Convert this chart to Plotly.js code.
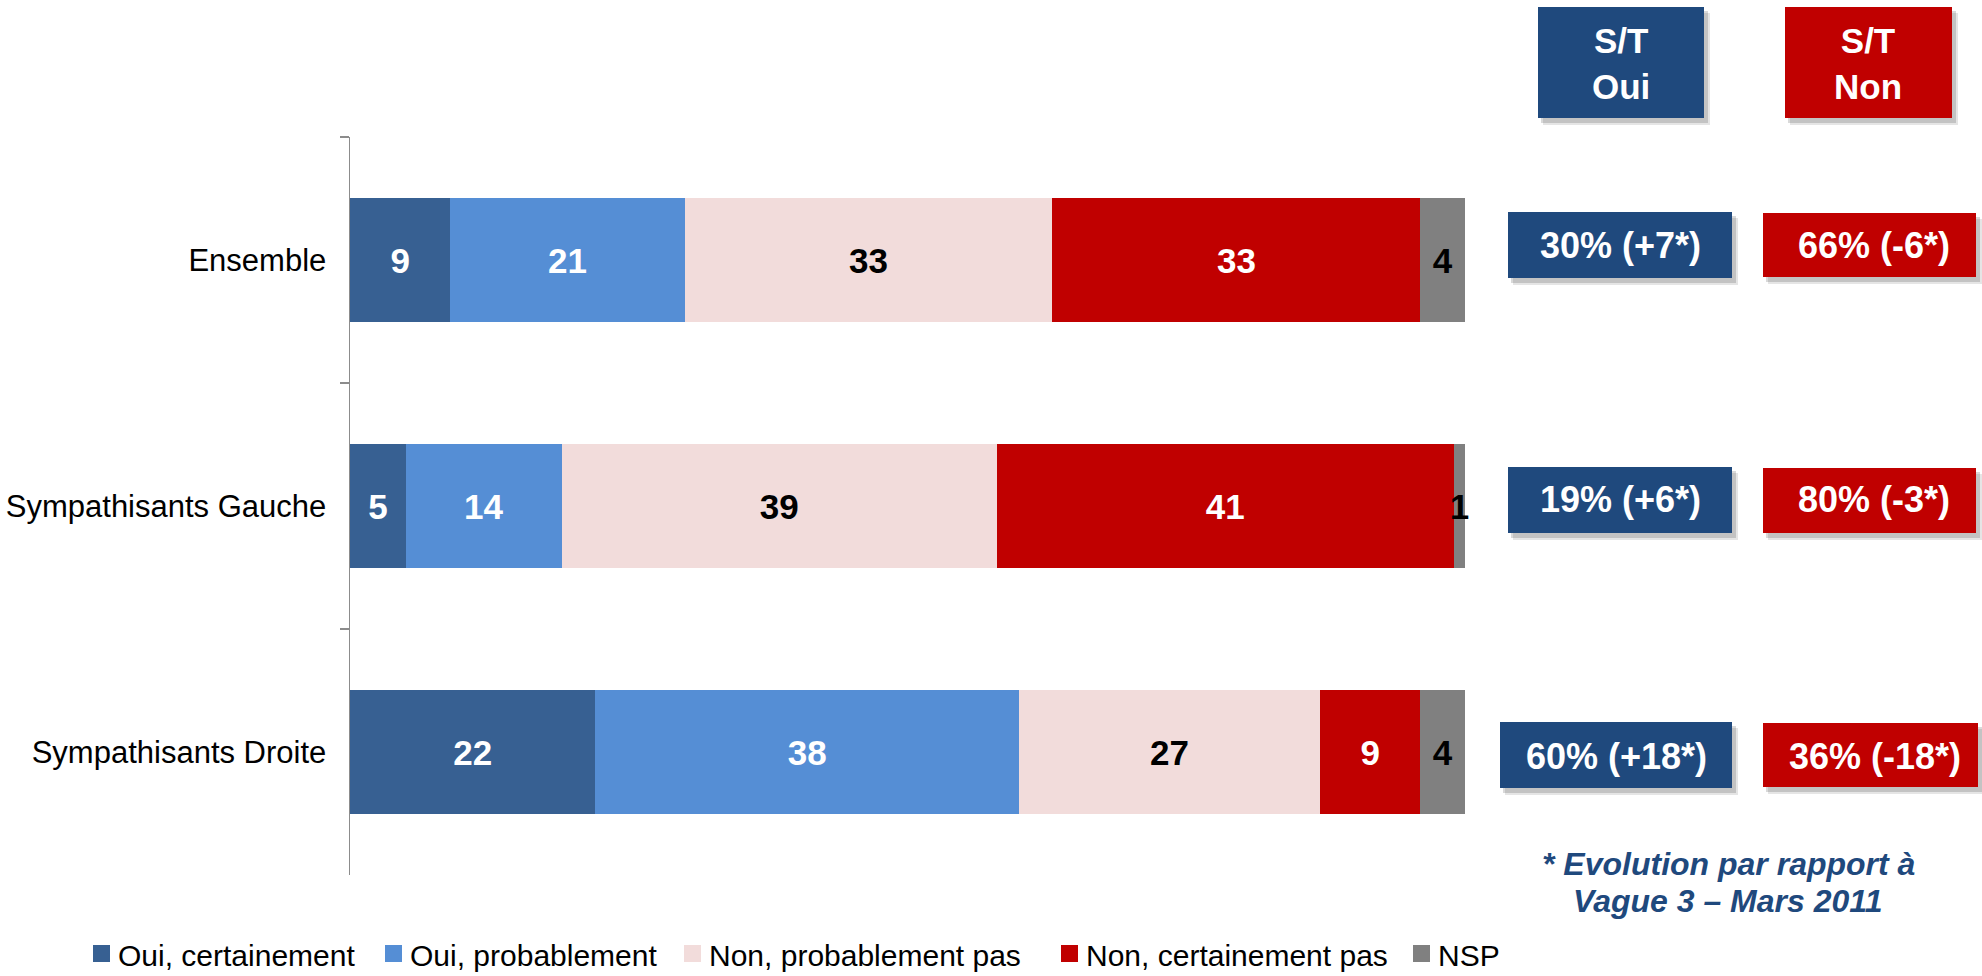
<!DOCTYPE html>
<html>
<head>
<meta charset="utf-8">
<script src="https://cdn.plot.ly/plotly-3.0.1.min.js"></script>
<style>html,body{margin:0;padding:0;background:#fff;}#chart{width:1982px;height:976px;}</style>
</head>
<body>
<div id="chart"></div>
<script>
// ---- Data ----
const categories = ['Ensemble', 'Sympathisants Gauche', 'Sympathisants Droite'];
const seriesNames = ['Oui, certainement', 'Oui, probablement', 'Non, probablement pas', 'Non, certainement pas', 'NSP'];
const ouiCertainement = [9, 5, 22];
const ouiProbablement = [21, 14, 38];
const nonProbablementPas = [33, 39, 27];
const nonCertainementPas = [33, 41, 9];
const nsp = [4, 1, 4];
const stOui = ['30% (+7*)', '19% (+6*)', '60% (+18*)'];
const stNon = ['66% (-6*)', '80% (-3*)', '36% (-18*)'];
const headerOui = 'S/T<br>Oui';
const headerNon = 'S/T<br>Non';
const footnote = ['* Evolution par rapport à', 'Vague 3 – Mars 2011'];

// ---- Styles ----
const seriesColors = ['#376092', '#558ed5', '#f2dcdb', '#c00000', '#808080'];
const labelColors = ['#ffffff', '#ffffff', '#000000', '#ffffff', '#000000'];
const FONT = 'Liberation Sans, Arial, sans-serif';
const BLUE = '#1f497d', RED = '#c00000';

const L = 350, R = 1465, T = 137, B = 875;
const px = x => (x - L) / (R - L);
const py = y => (B - y) / (B - T);

const seriesValues = [ouiCertainement, ouiProbablement, nonProbablementPas, nonCertainementPas, nsp];

const traces = seriesValues.map((vals, i) => ({
  type: 'bar',
  orientation: 'h',
  name: seriesNames[i],
  y: categories,
  x: vals,
  marker: {color: seriesColors[i], line: {width: 0}},
  text: vals.map(String),
  texttemplate: '%{text}',
  textposition: 'inside',
  insidetextanchor: 'middle',
  textangle: 0,
  constraintext: 'none',
  cliponaxis: false,
  textfont: {family: FONT, size: 35, weight: 'bold', color: labelColors[i]},
  hoverinfo: 'skip',
  showlegend: false
}));

const shapes = [];
const annotations = [];

function box(x0, x1, y0, y1, color) {
  // soft drop shadow
  shapes.push({type: 'rect', xref: 'paper', yref: 'paper', layer: 'above',
    x0: px(x0 + 5), x1: px(x1 + 6), y0: py(y1 + 7), y1: py(y0 + 6),
    fillcolor: 'rgba(0,0,0,0.10)', line: {width: 0}});
  shapes.push({type: 'rect', xref: 'paper', yref: 'paper', layer: 'above',
    x0: px(x0 + 3), x1: px(x1 + 4), y0: py(y1 + 5), y1: py(y0 + 4),
    fillcolor: 'rgba(0,0,0,0.15)', line: {width: 0}});
  shapes.push({type: 'rect', xref: 'paper', yref: 'paper', layer: 'above',
    x0: px(x0), x1: px(x1), y0: py(y1), y1: py(y0),
    fillcolor: color, line: {width: 0}});
}
function label(text, x, y, size, opts) {
  annotations.push(Object.assign({
    text: text, xref: 'paper', yref: 'paper', x: px(x), y: py(y),
    xanchor: 'center', yanchor: 'middle', showarrow: false,
    font: {family: FONT, size: size, color: '#ffffff', weight: 'bold'}
  }, opts || {}));
}

// headers
box(1538, 1704, 7, 118, BLUE);
box(1785, 1952, 7, 118, RED);
label(headerOui, 1621, 64, 35);
label(headerNon, 1868, 64, 35);

// value boxes
const rowBoxes = [
  {blue: [1508, 1732, 212, 278], red: [1763, 1976, 213, 277], cy: 245},
  {blue: [1508, 1732, 467, 533], red: [1763, 1976, 468, 533], cy: 500},
  {blue: [1500, 1732, 722, 788], red: [1763, 1978, 723, 787], cy: 756}
];
rowBoxes.forEach((rb, i) => {
  box(rb.blue[0], rb.blue[1], rb.blue[2], rb.blue[3], BLUE);
  box(rb.red[0], rb.red[1], rb.red[2], rb.red[3], RED);
  label(stOui[i], (rb.blue[0] + rb.blue[1]) / 2, rb.cy, 36);
  label(stNon[i], (rb.red[0] + rb.red[1]) / 2 + 4, rb.cy, 36);
});

// footnote
label(footnote[0], 1728, 864, 32, {font: {family: FONT, size: 32, color: BLUE, weight: 'bold', style: 'italic'}});
label(footnote[1], 1728, 901, 32, {font: {family: FONT, size: 32, color: BLUE, weight: 'bold', style: 'italic'}});

// legend (drawn manually to match the reference layout)
const legendX = [93, 385, 684, 1061, 1413];
seriesNames.forEach((name, i) => {
  shapes.push({type: 'rect', xref: 'paper', yref: 'paper', layer: 'above',
    x0: px(legendX[i]), x1: px(legendX[i] + 17), y0: py(962), y1: py(945),
    fillcolor: seriesColors[i], line: {width: 0}});
  annotations.push({text: name, xref: 'paper', yref: 'paper',
    x: px(legendX[i] + 23), y: py(955), xanchor: 'left', yanchor: 'middle',
    showarrow: false, font: {family: FONT, size: 30, color: '#000000'}});
});

const layout = {
  width: 1982, height: 976,
  margin: {l: L, r: 1982 - R, t: T, b: 976 - B, pad: 0},
  paper_bgcolor: '#ffffff', plot_bgcolor: '#ffffff',
  barmode: 'stack',
  bargap: 0.496,
  showlegend: false,
  font: {family: FONT, color: '#000000'},
  xaxis: {range: [0, 100], visible: false, fixedrange: true},
  yaxis: {
    type: 'category', categoryarray: categories, categoryorder: 'array',
    autorange: 'reversed',
    showline: true, linecolor: '#8c8c8c', linewidth: 1.5,
    ticks: 'outside', tickson: 'boundaries', ticklen: 9, tickwidth: 1.5, tickcolor: '#8c8c8c',
    showgrid: false, zeroline: false,
    tickfont: {family: FONT, size: 31, color: '#000000'},
    ticklabelstandoff: 16,
    fixedrange: true
  },
  shapes: shapes,
  annotations: annotations
};

Plotly.newPlot('chart', traces, layout, {displayModeBar: false, staticPlot: true});
</script>
</body>
</html>
